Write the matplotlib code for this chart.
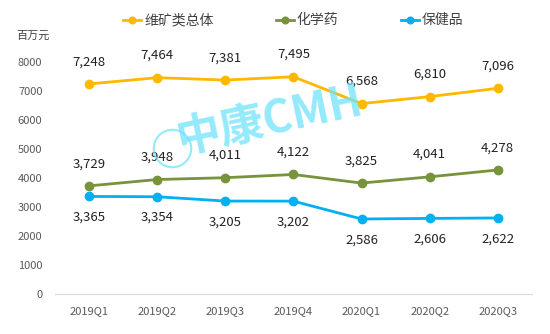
import matplotlib.pyplot as plt
from matplotlib.lines import Line2D
import numpy as np

plt.rcParams['font.family'] = ['Noto Sans CJK SC', 'DejaVu Sans']

quarters = ['2019Q1', '2019Q2', '2019Q3', '2019Q4', '2020Q1', '2020Q2', '2020Q3']
total = [7248, 7464, 7381, 7495, 6568, 6810, 7096]
chem = [3729, 3948, 4011, 4122, 3825, 4041, 4278]
health = [3365, 3354, 3205, 3202, 2586, 2606, 2622]
names = ['维矿类总体', '化学药', '保健品']
colors = ['#FFB800', '#77933C', '#00B0F0']
offsets = [16, 16, -15]

fig = plt.figure(figsize=(5.5, 3.34), dpi=100)
ax = fig.add_axes([0.1, 0.12, 0.867, 0.694])
x = np.arange(len(quarters))

for vals, name, c, off in zip([total, chem, health], names, colors, offsets):
    ax.plot(x, vals, color=c, lw=2, marker='o', ms=6, label=name)
    for xi, v in zip(x, vals):
        ax.annotate(f'{v:,}', (xi, v), xytext=(0, off), textcoords='offset points',
                    ha='center', va='center', fontsize=9.5, color='#222222',
                    annotation_clip=False, zorder=5)

# watermark
fig.text(0.49, 0.64, '中康CMH', fontsize=32, color='#6FE3FA', alpha=0.75,
         style='italic', fontweight='bold', ha='center', va='center', rotation=12, zorder=0)
fig.add_artist(Line2D([0.313], [0.557], marker='o', ms=27, mfc='none', mec='#6FE3FA',
                      mew=1.5, alpha=0.75, transform=fig.transFigure))

ax.set_xlim(-0.5, 6.5)
ax.set_ylim(0, 8000)
ax.set_yticks(range(0, 8001, 1000))
ax.set_xticks(x)
ax.set_xticklabels(quarters)
for s in ['top', 'right', 'left']:
    ax.spines[s].set_visible(False)
ax.spines['bottom'].set_color('#D9D9D9')
ax.tick_params(length=0, labelsize=8, colors='#595959', pad=9)
ax.tick_params(axis='y', pad=9)

fig.text(0.03, 0.885, '百万元', fontsize=8, color='#404040')
ax.legend(loc='center', bbox_to_anchor=(0.5, 1.18), ncol=3, frameon=False,
          fontsize=10, labelcolor='#404040', handlelength=1.3, handletextpad=0.2,
          columnspacing=4.5, markerscale=0.8)

fig.savefig('out.png', dpi=100)
